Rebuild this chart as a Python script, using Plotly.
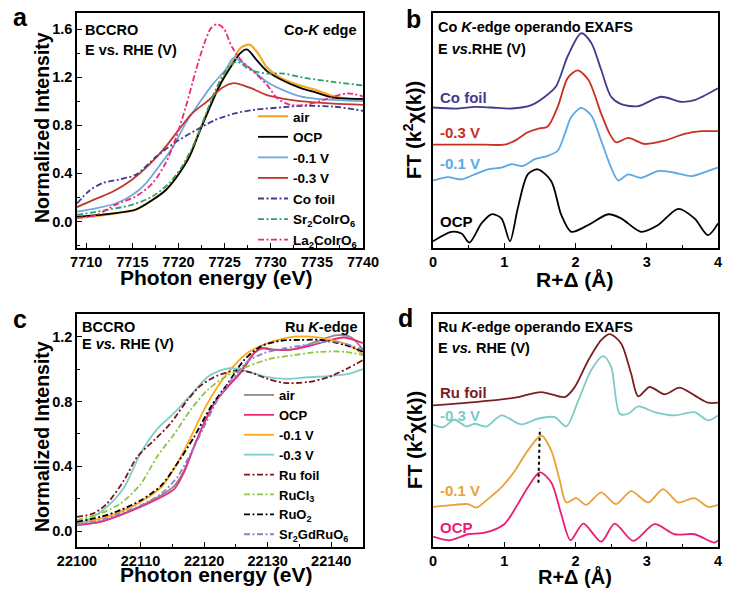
import plotly.graph_objects as go

# ---------------- panel a : Co K-edge XANES ----------------
a_air_x = [7709, 7712.5, 7715.4, 7717.2, 7718.6, 7719.7, 7721.2, 7722.2, 7723.3, 7724.4, 7725.8, 7726.7, 7727.7, 7728.6, 7729.6, 7731.2, 7733.2, 7735.0, 7736.8, 7738.5, 7740]
a_air_y = [0.03, 0.06, 0.10, 0.18, 0.26, 0.36, 0.55, 0.74, 0.94, 1.13, 1.32, 1.44, 1.47, 1.40, 1.28, 1.19, 1.13, 1.09, 1.04, 1.02, 1.01]
a_ocp_x = [7709, 7712.5, 7715.4, 7717.2, 7718.6, 7719.7, 7721.2, 7722.2, 7723.3, 7724.4, 7725.8, 7726.7, 7727.4, 7728.5, 7729.6, 7731.1, 7733.2, 7735.0, 7736.8, 7740]
a_ocp_y = [0.04, 0.064, 0.10, 0.18, 0.26, 0.36, 0.54, 0.73, 0.93, 1.12, 1.30, 1.40, 1.43, 1.34, 1.25, 1.18, 1.11, 1.07, 1.03, 1.02]
a_m01_x = [7709, 7711.1, 7713.2, 7715.0, 7716.5, 7717.9, 7719.4, 7720.8, 7722.2, 7723.7, 7725.1, 7726.0, 7727.8, 7729.6, 7731.4, 7733.2, 7735.0, 7740]
a_m01_y = [0.083, 0.11, 0.15, 0.22, 0.32, 0.46, 0.62, 0.82, 0.98, 1.14, 1.26, 1.36, 1.27, 1.16, 1.09, 1.04, 1.02, 1.00]
a_m03_x = [7709, 7711.1, 7712.9, 7715.0, 7716.8, 7718.6, 7720.0, 7721.5, 7723.3, 7724.7, 7726.0, 7727.8, 7729.6, 7731.4, 7733.2, 7736.8, 7740]
a_m03_y = [0.12, 0.19, 0.25, 0.35, 0.47, 0.62, 0.76, 0.90, 1.01, 1.11, 1.15, 1.11, 1.05, 1.02, 1.00, 0.98, 0.97]
a_cof_x = [7709, 7710.4, 7711.8, 7713.6, 7715.4, 7717.6, 7719.7, 7721.9, 7724.0, 7726.2, 7728.4, 7731.4, 7733.2, 7736.8, 7740]
a_cof_y = [0.15, 0.26, 0.32, 0.35, 0.39, 0.54, 0.66, 0.76, 0.845, 0.90, 0.93, 0.95, 0.96, 0.955, 0.92]
a_sr_x = [7709, 7712.5, 7715.0, 7717.2, 7719.0, 7720.4, 7721.9, 7723.0, 7724.0, 7725.1, 7726.3, 7727.8, 7729.6, 7731.4, 7733.2, 7736.8, 7740]
a_sr_y = [0.055, 0.10, 0.14, 0.21, 0.32, 0.46, 0.68, 0.90, 1.09, 1.25, 1.33, 1.26, 1.23, 1.23, 1.20, 1.16, 1.13]
a_la_x = [7709, 7711.1, 7713.2, 7715.4, 7717.2, 7718.6, 7719.7, 7720.8, 7721.9, 7722.8, 7723.5, 7724.2, 7724.9, 7725.8, 7726.9, 7727.8, 7729.6, 7730.7, 7732.1, 7733.9, 7735.7, 7738.3, 7740]
a_la_y = [0.03, 0.055, 0.14, 0.21, 0.32, 0.485, 0.69, 0.955, 1.26, 1.48, 1.605, 1.64, 1.605, 1.45, 1.33, 1.27, 1.135, 1.025, 0.97, 0.97, 1.01, 1.065, 1.04]

# ---------------- panel b : Co K-edge EXAFS (offset, a.u.) ----------------
b_ocp_x = [0, 0.257, 0.40, 0.51, 0.68, 0.82, 0.96, 1.08, 1.19, 1.33, 1.47, 1.66, 1.80, 1.94, 2.18, 2.46, 2.64, 2.92, 3.16, 3.44, 3.67, 3.86, 4.0]
b_ocp_y = [6.7, 16, 14.3, 5.3, 24.3, 33.3, 29.3, 6.7, 39.3, 72.7, 77.7, 66, 32.7, 16, 22.7, 33.3, 29.3, 16, 22.7, 38.7, 29.3, 12.7, 24.3]
b_m01_x = [0, 0.21, 0.40, 0.585, 0.77, 0.96, 1.10, 1.26, 1.43, 1.61, 1.75, 1.85, 1.94, 2.08, 2.22, 2.36, 2.50, 2.60, 2.74, 2.92, 3.16, 3.39, 3.63, 3.86, 4.0]
b_m01_y = [66.7, 70, 67.7, 72.7, 77.7, 79.3, 82.7, 81, 87.7, 91, 96, 112.7, 129.3, 138.3, 131, 106, 79.3, 66.7, 72.7, 69.3, 76, 74.3, 71, 76, 79.3]
b_m03_x = [0, 0.35, 0.73, 1.0, 1.15, 1.33, 1.47, 1.61, 1.75, 1.89, 2.03, 2.18, 2.36, 2.48, 2.57, 2.74, 2.97, 3.25, 3.53, 3.77, 4.0]
b_m03_y = [102, 102, 102, 102, 106, 114.3, 117.7, 120, 139.3, 167.7, 175.3, 166, 132.7, 112.7, 104.3, 108.7, 102.7, 106, 112.7, 115.3, 115.3]
b_cof_x = [0, 0.35, 0.585, 0.82, 1.10, 1.38, 1.57, 1.73, 1.89, 2.08, 2.22, 2.36, 2.50, 2.64, 2.88, 3.20, 3.49, 3.67, 4.0]
b_cof_y = [138.7, 137.7, 139.3, 138.7, 137.7, 141, 149.3, 160, 189.3, 212, 202.7, 176, 149.3, 142, 140, 149.3, 144.3, 146, 157.7]

# ---------------- panel c : Ru K-edge XANES ----------------
c_air_x = [22100, 22103.7, 22106.8, 22110, 22113.2, 22115.3, 22116.8, 22118.4, 22120, 22121.6, 22123.7, 22125.8, 22127.9, 22129.5, 22131, 22133.7, 22136.3, 22139, 22141, 22143, 22145]
c_air_y = [0.04, 0.06, 0.10, 0.155, 0.22, 0.28, 0.37, 0.52, 0.67, 0.79, 0.89, 0.99, 1.10, 1.13, 1.12, 1.12, 1.15, 1.19, 1.21, 1.20, 1.12]
c_ocp_x = [22100, 22103.7, 22106.8, 22110, 22113.2, 22115.3, 22116.8, 22118.4, 22120, 22121.6, 22123.7, 22125.8, 22127.9, 22128.9, 22130.5, 22133.7, 22136.3, 22139, 22142, 22145]
c_ocp_y = [0.037, 0.058, 0.10, 0.15, 0.21, 0.26, 0.36, 0.52, 0.665, 0.79, 0.89, 0.98, 1.10, 1.13, 1.12, 1.12, 1.14, 1.17, 1.195, 1.16]
c_m01_x = [22100, 22103.7, 22106.8, 22110, 22113.2, 22115.8, 22117.9, 22120, 22122.1, 22124.2, 22126.8, 22130, 22134.2, 22136.8, 22140, 22143.2, 22145]
c_m01_y = [0.047, 0.078, 0.12, 0.18, 0.27, 0.42, 0.58, 0.75, 0.89, 1.00, 1.10, 1.16, 1.20, 1.20, 1.18, 1.14, 1.09]
c_m03_x = [22100, 22102.1, 22104.7, 22107.4, 22110, 22112.6, 22115.3, 22117.9, 22120.5, 22123.2, 22124.7, 22127.4, 22130, 22133.2, 22136.3, 22139.5, 22142.6, 22145]
c_m03_y = [0.037, 0.078, 0.15, 0.27, 0.48, 0.63, 0.73, 0.84, 0.95, 1.00, 1.005, 0.98, 0.95, 0.94, 0.95, 0.957, 0.97, 1.00]
c_ruf_x = [22100, 22102.6, 22104.7, 22107.4, 22109.5, 22112.1, 22114.7, 22117.4, 22119.5, 22122.1, 22124.7, 22126.8, 22130, 22132.6, 22136.3, 22139.5, 22142.6, 22145]
c_ruf_y = [0.089, 0.11, 0.17, 0.315, 0.46, 0.56, 0.665, 0.81, 0.90, 0.96, 0.99, 0.985, 0.94, 0.915, 0.92, 0.95, 1.005, 1.056]
c_rucl_x = [22100, 22103.7, 22106.8, 22110, 22112.6, 22115.3, 22117.9, 22120.5, 22123.2, 22125.8, 22130, 22134.2, 22138.4, 22142.1, 22145]
c_rucl_y = [0.068, 0.11, 0.17, 0.29, 0.46, 0.60, 0.75, 0.87, 0.95, 1.00, 1.06, 1.087, 1.107, 1.107, 1.087]
c_ruo2_x = [22100, 22103.7, 22106.8, 22110, 22113.2, 22115.8, 22118.4, 22121.1, 22123.7, 22126.3, 22128.9, 22132.1, 22135.3, 22138.4, 22142.1, 22145]
c_ruo2_y = [0.058, 0.089, 0.13, 0.19, 0.28, 0.42, 0.58, 0.77, 0.91, 1.056, 1.14, 1.175, 1.18, 1.18, 1.15, 1.107]
c_sgr_x = [22100, 22103.7, 22106.8, 22110, 22113.2, 22115.8, 22117.9, 22120, 22122.1, 22124.2, 22126.8, 22129.5, 22132.6, 22136.3, 22140.5, 22145]
c_sgr_y = [0.043, 0.068, 0.11, 0.16, 0.23, 0.335, 0.48, 0.645, 0.81, 0.93, 1.046, 1.10, 1.128, 1.15, 1.17, 1.12]

# ---------------- panel d : Ru K-edge EXAFS (offset, a.u.) ----------------
d_ruf_x = [0, 0.585, 1.15, 1.52, 1.85, 1.99, 2.18, 2.36, 2.48, 2.64, 2.78, 2.88, 3.04, 3.25, 3.46, 3.67, 3.86, 4.0]
d_ruf_y = [141, 144.3, 148.7, 154.3, 149.3, 159.3, 186, 206, 212, 202.7, 172.7, 150, 159.3, 152, 158.7, 151, 143.7, 143.7]
d_m03_x = [0, 0.14, 0.30, 0.47, 0.585, 0.75, 0.96, 1.24, 1.47, 1.71, 1.87, 2.04, 2.22, 2.39, 2.50, 2.62, 2.74, 2.88, 3.11, 3.39, 3.67, 3.86, 4.0]
d_m03_y = [122, 119.3, 126.7, 120, 122.7, 120, 131, 122, 127.7, 129.3, 120, 146, 176, 190, 179.3, 132.7, 132.7, 140, 134.3, 131, 134.3, 126, 131]
d_m01_x = [0, 0.30, 0.49, 0.61, 0.77, 0.96, 1.15, 1.33, 1.52, 1.66, 1.78, 1.87, 2.01, 2.15, 2.36, 2.57, 2.78, 3.02, 3.23, 3.44, 3.67, 3.86, 4.0]
d_m01_y = [40, 42, 42.7, 39.3, 47.7, 59.3, 76, 96, 111, 96, 66, 44.3, 48.7, 42, 54.3, 42.7, 55.7, 44.3, 57.7, 44.3, 48.7, 40, 42]
d_ocp_x = [0, 0.23, 0.49, 0.73, 1.0, 1.19, 1.33, 1.50, 1.66, 1.80, 1.93, 2.11, 2.36, 2.55, 2.81, 3.11, 3.39, 3.67, 3.95, 4.0]
d_ocp_y = [10.3, 6.7, 12.7, 14.3, 22.7, 42.7, 59.3, 74.3, 64.3, 32.7, 6.7, 23.3, 5.3, 23.3, 6, 22.7, 12.7, 12.7, 4.3, 6.7]
d_guide_x = [1.48, 1.50]
d_guide_y = [64, 118]

FONT = "Liberation Sans, Arial, sans-serif"
DASHDOT = "6px,2.5px,2px,2.5px"

fig = go.Figure()


def add(x, y, name, color, xa, ya, dash="solid", legend=None, width=1.8):
    fig.add_trace(go.Scatter(
        x=x, y=y, name=name, mode="lines",
        line=dict(color=color, width=width, dash=dash, shape="spline", smoothing=0.8),
        xaxis=xa, yaxis=ya, showlegend=legend is not None,
        legend=legend if legend else "legend",
    ))


# panel a
add(a_air_x, a_air_y, "air", "#F7A823", "x", "y", legend="legend", width=2.2)
add(a_ocp_x, a_ocp_y, "OCP", "#000000", "x", "y", legend="legend")
add(a_m01_x, a_m01_y, "-0.1 V", "#6FA8DC", "x", "y", legend="legend")
add(a_m03_x, a_m03_y, "-0.3 V", "#C0392B", "x", "y", legend="legend")
add(a_cof_x, a_cof_y, "Co foil", "#3F3C8F", "x", "y", DASHDOT, "legend")
add(a_sr_x, a_sr_y, "Sr<sub>2</sub>CoIrO<sub>6</sub>", "#2E9D6A", "x", "y", DASHDOT, "legend")
add(a_la_x, a_la_y, "La<sub>2</sub>CoIrO<sub>6</sub>", "#F0287D", "x", "y", DASHDOT, "legend")

# panel b
add(b_cof_x, b_cof_y, "Co foil", "#433A8E", "x2", "y2")
add(b_m03_x, b_m03_y, "-0.3 V", "#C8301F", "x2", "y2")
add(b_m01_x, b_m01_y, "-0.1 V", "#5AA9E6", "x2", "y2")
add(b_ocp_x, b_ocp_y, "OCP", "#000000", "x2", "y2")

# panel c
add(c_air_x, c_air_y, "air", "#8C8C8C", "x3", "y3", legend="legend2")
add(c_ocp_x, c_ocp_y, "OCP", "#EE2A7B", "x3", "y3", legend="legend2")
add(c_m01_x, c_m01_y, "-0.1 V", "#FBA919", "x3", "y3", legend="legend2")
add(c_m03_x, c_m03_y, "-0.3 V", "#7FCDC8", "x3", "y3", legend="legend2")
add(c_ruf_x, c_ruf_y, "Ru foil", "#7A1518", "x3", "y3", DASHDOT, "legend2")
add(c_rucl_x, c_rucl_y, "RuCl<sub>3</sub>", "#8DC63F", "x3", "y3", DASHDOT, "legend2")
add(c_ruo2_x, c_ruo2_y, "RuO<sub>2</sub>", "#000000", "x3", "y3", DASHDOT, "legend2")
add(c_sgr_x, c_sgr_y, "Sr<sub>2</sub>GdRuO<sub>6</sub>", "#8E80C8", "x3", "y3", DASHDOT, "legend2")

# panel d
add(d_ruf_x, d_ruf_y, "Ru foil", "#7A1E22", "x4", "y4")
add(d_m03_x, d_m03_y, "-0.3 V", "#7CCBC5", "x4", "y4")
add(d_m01_x, d_m01_y, "-0.1 V", "#E8A23A", "x4", "y4")
add(d_ocp_x, d_ocp_y, "OCP", "#EC1C74", "x4", "y4")
fig.add_trace(go.Scatter(x=d_guide_x, y=d_guide_y, mode="lines", showlegend=False,
                         line=dict(color="#000000", width=2, dash="dot"), xaxis="x4", yaxis="y4"))

# the page body has an 8px margin, so screen positions are shifted by OFF
OFF = 8
W, H = 750 - 2 * OFF, 596 - 2 * OFF


def px(x):
    return (x - OFF) / W


def py(y):
    return 1 - (y - OFF) / H


dom_left = [px(77), px(363)]
dom_right = [px(433), px(718)]
dom_top = [py(248), py(13)]
dom_bot = [py(547), py(314)]

tickfont = dict(family=FONT, size=14.5, color="#000", weight="bold")


def axis(domain, rng, dtick=None, minor=None, fmt=None, anchor=None):
    d = dict(domain=domain, range=rng, showline=True, mirror=True, linecolor="#000", linewidth=1.5,
             showgrid=False, zeroline=False, tickfont=tickfont, anchor=anchor, automargin=False)
    if dtick is not None:
        d.update(ticks="inside", ticklen=5, tickwidth=1.3, tickcolor="#000", dtick=dtick,
                 minor=dict(ticks="inside", ticklen=3, tickwidth=1.2, tickcolor="#000", dtick=minor))
        if fmt:
            d["tickformat"] = fmt
    else:
        d.update(ticks="", showticklabels=False)
    return d


legfont = dict(family=FONT, size=13.5, weight="bold", color="#000")

fig.update_layout(
    width=W, height=H, margin=dict(l=0, r=0, t=0, b=0),
    paper_bgcolor="white", plot_bgcolor="white",
    font=dict(family=FONT, color="#000"),
    xaxis=axis(dom_left, [7709, 7740], 5, 2.5, "d", anchor="y"),
    yaxis=axis(dom_top, [-0.22, 1.733], 0.4, 0.2, ".1f", anchor="x"),
    xaxis2=axis(dom_right, [0, 4], 1, 0.5, "d", anchor="y2"),
    yaxis2=axis(dom_top, [0, 232], anchor="x2"),
    xaxis3=axis(dom_left, [22100, 22145], 10, 5, "d", anchor="y3"),
    yaxis3=axis(dom_bot, [-0.097, 1.34], 0.4, 0.2, ".1f", anchor="x3"),
    xaxis4=axis(dom_right, [0, 4], 1, 0.5, "d", anchor="y4"),
    yaxis4=axis(dom_bot, [0, 232], anchor="x4"),
    legend=dict(x=px(253), y=py(101), xanchor="left", yanchor="top", bgcolor="rgba(0,0,0,0)",
                font=legfont, itemwidth=30),
    legend2=dict(x=px(239), y=py(380), xanchor="left", yanchor="top", bgcolor="rgba(0,0,0,0)",
                 font=dict(family=FONT, size=13, weight="bold", color="#000"), itemwidth=30),
)

ann = []


def txt(text, x, y, size=14.5, xanchor="left", color="#000", xref="paper", yref="paper", angle=0):
    ann.append(dict(text=text, x=x, y=y, xref=xref, yref=yref, showarrow=False, xanchor=xanchor,
                    yanchor="middle", textangle=angle,
                    font=dict(family=FONT, size=size, color=color, weight="bold")))


# panel letters
txt("a", px(11), py(17), 25)
txt("b", px(404), py(19), 25)
txt("c", px(11), py(319), 25)
txt("d", px(396), py(318), 25)

# panel a texts
txt("BCCRO", px(83), py(30))
txt("E vs. RHE (V)", px(83), py(50))
txt("Co-<i>K</i> edge", px(359), py(30), xanchor="right")
txt("Normalized Intensity", px(42), py(128), 19.5, xanchor="center", angle=-90)
txt("Photon energy (eV)", px(216), py(277), 21, xanchor="center")

# panel b texts
txt("Co <i>K</i>-edge operando EXAFS", px(436), py(27))
txt("E <i>vs</i>.RHE (V)", px(436), py(49))
txt("FT (k<sup>2</sup>χ(k))", px(413), py(130), 20, xanchor="center", angle=-90)
txt("R+Δ (Å)", px(575), py(279), 21, xanchor="center")
txt("Co foil", 0.07, 149, 15, color="#433A8E", xref="x2", yref="y2")
txt("-0.3 V", 0.07, 114, 15, color="#C8301F", xref="x2", yref="y2")
txt("-0.1 V", 0.07, 83, 15, color="#5AA9E6", xref="x2", yref="y2")
txt("OCP", 0.07, 26, 15, xref="x2", yref="y2")

# panel c texts
txt("BCCRO", px(80), py(327))
txt("E <i>vs.</i> RHE (V)", px(80), py(344))
txt("Ru <i>K</i>-edge", px(360), py(327), xanchor="right")
txt("Normalized Intensity", px(42), py(437), 19.5, xanchor="center", angle=-90)
txt("Photon energy (eV)", px(216), py(574), 21, xanchor="center")

# panel d texts
txt("Ru <i>K</i>-edge operando EXAFS", px(436), py(327))
txt("E <i>vs.</i> RHE (V)", px(436), py(348))
txt("FT (k<sup>2</sup>χ(k))", px(413), py(440), 20, xanchor="center", angle=-90)
txt("R+Δ (Å)", px(575), py(576), 20, xanchor="center")
txt("Ru foil", 0.07, 154, 15, color="#7A1E22", xref="x4", yref="y4")
txt("-0.3 V", 0.07, 131, 15, color="#7CCBC5", xref="x4", yref="y4")
txt("-0.1 V", 0.07, 56, 15, color="#E8A23A", xref="x4", yref="y4")
txt("OCP", 0.07, 19, 15, color="#EC1C74", xref="x4", yref="y4")

fig.update_layout(annotations=ann)
fig.write_html("out.html")
